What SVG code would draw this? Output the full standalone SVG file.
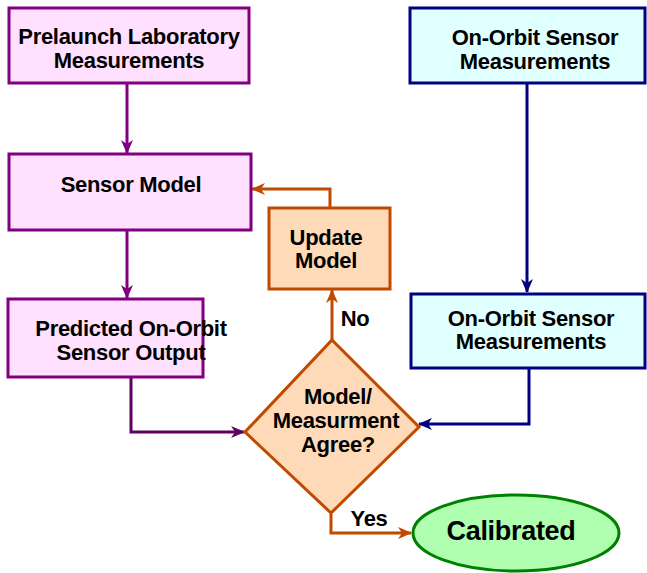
<svg xmlns="http://www.w3.org/2000/svg" width="647" height="573" viewBox="0 0 647 573">
<defs>
<style>
text{font-family:"Liberation Sans",Arial,sans-serif;font-weight:bold;font-size:22px;fill:#000;text-anchor:middle;letter-spacing:-0.3px}
.pbox{fill:#FFE0FF;stroke:#800080;stroke-width:3}
.cbox{fill:#E0FFFF;stroke:#000080;stroke-width:3}
.obox{fill:#FFDAB9;stroke:#C04A00;stroke-width:3}
.gbox{fill:#B0FFB0;stroke:#008000;stroke-width:3}
.c{fill:none;stroke-width:3}
</style>
<marker id="ap" markerUnits="userSpaceOnUse" markerWidth="14" markerHeight="12" refX="13" refY="6" orient="auto"><path d="M0,0 L14,6 L0,12 L4,6 z" fill="#800080"/></marker>
<marker id="ad" markerUnits="userSpaceOnUse" markerWidth="14" markerHeight="12" refX="13" refY="6" orient="auto"><path d="M0,0 L14,6 L0,12 L4,6 z" fill="#600060"/></marker>
<marker id="ab" markerUnits="userSpaceOnUse" markerWidth="14" markerHeight="12" refX="13" refY="6" orient="auto"><path d="M0,0 L14,6 L0,12 L4,6 z" fill="#000080"/></marker>
<marker id="ao" markerUnits="userSpaceOnUse" markerWidth="14" markerHeight="12" refX="13" refY="6" orient="auto"><path d="M0,0 L14,6 L0,12 L4,6 z" fill="#C04A00"/></marker>
</defs>
<g id="connectors">
<path class="c" stroke="#800080" d="M127,84 V153" marker-end="url(#ap)"/>
<path class="c" stroke="#800080" d="M127,230 V298" marker-end="url(#ap)"/>
<path class="c" stroke="#C04A00" d="M330,208 V189 H252" marker-end="url(#ao)"/>
<path class="c" stroke="#C04A00" d="M332,340 V290" marker-end="url(#ao)"/>
<path class="c" stroke="#000080" d="M527,84 V292" marker-end="url(#ab)"/>
<path class="c" stroke="#600060" d="M131,377 V432 H244" marker-end="url(#ad)"/>
<path class="c" stroke="#000080" d="M529,368 V424 H419" marker-end="url(#ab)"/>
<path class="c" stroke="#C04A00" d="M331,514 V533 H411" marker-end="url(#ao)"/>
<text x="355" y="326">No</text>
<text x="369" y="526">Yes</text>
</g>
<g id="prelaunch">
<rect class="pbox" x="9" y="8" width="240" height="75"/>
<text x="129" y="44">Prelaunch Laboratory</text>
<text x="129" y="68">Measurements</text>
</g>
<g id="onorbit1">
<rect class="cbox" x="410" y="8" width="235" height="75"/>
<text x="535" y="45">On-Orbit Sensor</text>
<text x="535" y="69">Measurements</text>
</g>
<g id="sensormodel">
<rect class="pbox" x="9" y="154" width="242" height="76"/>
<text x="131" y="192">Sensor Model</text>
</g>
<g id="update">
<rect class="obox" x="269" y="208" width="121" height="81"/>
<text x="326" y="245">Update</text>
<text x="326" y="268">Model</text>
</g>
<g id="predicted">
<rect class="pbox" x="8" y="299" width="195" height="78"/>
<text x="131" y="336">Predicted On-Orbit</text>
<text x="131" y="360">Sensor Output</text>
</g>
<g id="onorbit2">
<rect class="cbox" x="411" y="294" width="234" height="74"/>
<text x="531" y="326">On-Orbit Sensor</text>
<text x="531" y="349">Measurements</text>
</g>
<g id="decision">
<polygon class="obox" points="332,340 419,427 331,513 245,432"/>
<text x="338" y="404">Model/</text>
<text x="336" y="428">Measurment</text>
<text x="338" y="452">Agree?</text>
</g>
<g id="calibrated">
<ellipse class="gbox" cx="516" cy="533" rx="103" ry="38"/>
<text x="511" y="540" style="font-size:27px">Calibrated</text>
</g>
</svg>
